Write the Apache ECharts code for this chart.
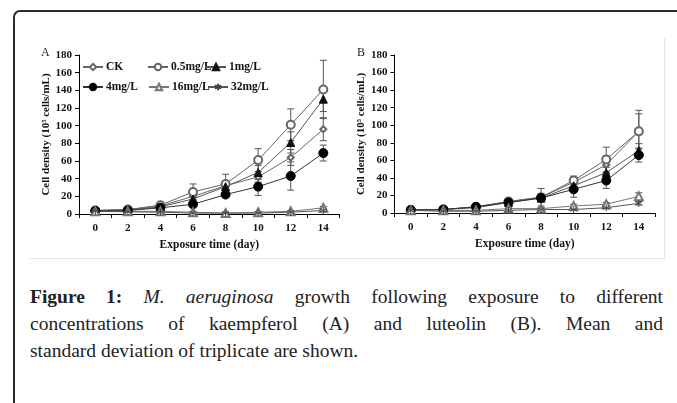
<!DOCTYPE html>
<html><head><meta charset="utf-8">
<script src="https://cdn.jsdelivr.net/npm/echarts@6/dist/echarts.min.js"></script>
<style>
html,body{margin:0;padding:0;background:#fff;}
#wrap{position:relative;width:677px;height:403px;overflow:hidden;background:#fff;}
#frame{position:absolute;left:13px;top:10px;width:700px;height:420px;border-top:2px solid #2a2a2a;border-left:2px solid #2a2a2a;border-top-left-radius:7px;box-sizing:border-box;}
#shadowR{position:absolute;left:664px;top:38px;width:1px;height:221px;background:#e6e6e6;}
#shadowB{position:absolute;left:30px;top:258px;width:635px;height:1px;background:#e6e6e6;}
#chart{position:absolute;left:0;top:0;width:677px;height:265px;}
#cap{position:absolute;left:30px;top:283px;width:633px;font-family:"Liberation Serif","Times New Roman",serif;font-size:19.5px;color:#222;line-height:27px;}
.j2{text-align:justify;text-align-last:justify;}
</style></head>
<body><div id="wrap">
<div id="frame"></div>
<div id="shadowR"></div><div id="shadowB"></div>
<div id="chart"></div>
<div id="cap">
<div class="j2"><b>Figure 1:</b> <i>M. aeruginosa</i> growth following exposure to different</div>
<div class="j2">concentrations of kaempferol (A) and luteolin (B). Mean and</div>
<div>standard deviation of triplicate are shown.</div>
</div>
</div>
<script>
// ---- data ----
var days = ['0','2','4','6','8','10','12','14'];
var seriesNames = ['CK','0.5mg/L','1mg/L','4mg/L','16mg/L','32mg/L'];
var yTicks = [0,20,40,60,80,100,120,140,160,180];

// Panel A (kaempferol): means
var A_CK   = [4, 5, 9, 20, 32, 42, 64, 96];
var A_05   = [4, 5, 10, 25, 34, 61, 101, 141];
var A_1    = [3.5, 4.5, 8, 17, 31, 47, 81, 130];
var A_4    = [3.5, 4, 7, 11, 22, 31, 43, 69];
var A_16   = [3, 3, 3, 2, 1, 2, 3, 7];
var A_32   = [3, 2.5, 2, 1, 1, 1, 2, 4];
// Panel A: standard deviations
var A_CK_sd = [0.5, 0.8, 1.5, 4, 5, 6, 9, 13];
var A_05_sd = [0.5, 1, 2, 9, 11, 13, 18, 33];
var A_1_sd  = [0.5, 1, 1.5, 4, 6, 8, 12, 14];
var A_4_sd  = [0.5, 0.8, 1.5, 3, 3, 10, 16, 9];
var A_16_sd = [0.3, 0.5, 0.5, 0.5, 0.3, 0.5, 0.8, 1.5];
var A_32_sd = [0.3, 0.3, 0.3, 0.3, 0.3, 0.5, 0.5, 1];

// Panel B (luteolin): means
var B_CK   = [3.5, 4, 7, 13, 18, 35, 55, 93];
var B_05   = [3.5, 4, 7, 13, 18, 37, 61, 93];
var B_1    = [3.5, 4, 6, 12, 17, 31, 46, 71];
var B_4    = [3.5, 4, 7, 12, 17, 27, 37, 66];
var B_16   = [3, 3, 3, 5, 5, 8, 10, 19];
var B_32   = [3, 2, 2, 3, 4, 4, 6, 11];
// Panel B: standard deviations
var B_CK_sd = [0.5, 0.8, 1, 2, 4, 5, 10, 20];
var B_05_sd = [0.5, 0.8, 1, 2, 10, 5, 14, 24];
var B_1_sd  = [0.5, 0.8, 1, 2, 3, 4, 6, 8];
var B_4_sd  = [0.5, 0.8, 1, 2, 3, 9, 9, 8];
var B_16_sd = [0.3, 0.5, 0.5, 1, 1, 2, 2, 4];
var B_32_sd = [0.3, 0.3, 0.5, 0.5, 0.8, 1, 1, 2];

var panelA = [A_CK, A_05, A_1, A_4, A_16, A_32];
var panelA_sd = [A_CK_sd, A_05_sd, A_1_sd, A_4_sd, A_16_sd, A_32_sd];
var panelB = [B_CK, B_05, B_1, B_4, B_16, B_32];
var panelB_sd = [B_CK_sd, B_05_sd, B_1_sd, B_4_sd, B_16_sd, B_32_sd];

// ---- styles ----
var SERIF = '"Liberation Serif","Times New Roman",serif';
var asterisk = 'path://M5,0L5,10M0.67,2.5L9.33,7.5M0.67,7.5L9.33,2.5';
var styles = [
  {symbol:'emptyDiamond', size:6, color:'#666', line:'#666'},
  {symbol:'emptyCircle', size:8, color:'#666', line:'#666'},
  {symbol:'triangle', size:8, color:'#111', line:'#555'},
  {symbol:'circle', size:9, color:'#000', line:'#333'},
  {symbol:'emptyTriangle', size:8, color:'#777', line:'#777'},
  {symbol:asterisk, size:7, color:'#444', line:'#555'}
];

var chart = echarts.init(document.getElementById('chart'), null, {renderer:'canvas'});

function xAxis(gi){
  return {type:'category', gridIndex:gi, data:days, boundaryGap:true,
    name:'Exposure time (day)', nameLocation:'middle', nameGap:24,
    nameTextStyle:{fontFamily:SERIF, fontWeight:'bold', fontSize:11.5, color:'#111'},
    axisLine:{lineStyle:{color:'#000', width:1}},
    axisTick:{show:true, length:4, inside:false, lineStyle:{color:'#000'}},
    axisLabel:{fontFamily:SERIF, fontWeight:'bold', fontSize:11, color:'#111', margin:9},
    splitLine:{show:false}};
}
function yAxis(gi){
  return {type:'value', gridIndex:gi, min:yTicks[0], max:yTicks[yTicks.length-1], interval:yTicks[1]-yTicks[0],
    name:'Cell density (10\u2075 cells/mL)', nameLocation:'middle', nameGap:26,
    nameTextStyle:{fontFamily:SERIF, fontWeight:'bold', fontSize:11, color:'#111'},
    axisLine:{show:true, lineStyle:{color:'#000', width:1}},
    axisTick:{show:true, length:4, lineStyle:{color:'#000'}},
    axisLabel:{fontFamily:SERIF, fontWeight:'bold', fontSize:11, color:'#111', margin:7},
    splitLine:{show:false}};
}

var series = [];
function addPanel(gi, means, sds){
  for (var i=0;i<seriesNames.length;i++){
    var st = styles[i];
    var ed = [];
    for (var k=0;k<days.length;k++) ed.push([k, means[i][k], sds[i][k]]);
    series.push({type:'custom', xAxisIndex:gi, yAxisIndex:gi, z:1, silent:true,
      data:ed, encode:{x:0,y:1},
      renderItem:function(params, api){
        var x=api.value(0), m=api.value(1), s=api.value(2);
        var lo = Math.max(0, m-s);
        var t=api.coord([x,m+s]), b=api.coord([x,lo]);
        var w=3.5;
        var st={stroke:'#555', lineWidth:1};
        return {type:'group', children:[
          {type:'line', shape:{x1:t[0],y1:t[1],x2:b[0],y2:b[1]}, style:st},
          {type:'line', shape:{x1:t[0]-w,y1:t[1],x2:t[0]+w,y2:t[1]}, style:st},
          {type:'line', shape:{x1:b[0]-w,y1:b[1],x2:b[0]+w,y2:b[1]}, style:st}
        ]};
      }});
    series.push({type:'line', name:seriesNames[i], xAxisIndex:gi, yAxisIndex:gi, z:3,
      data:means[i], symbol:st.symbol, symbolSize:st.size, showAllSymbol:true,
      lineStyle:{color:st.line, width:1},
      itemStyle:{color:st.color, borderColor:st.color, borderWidth:1},
      emphasis:{disabled:true}, animation:false});
  }
}
addPanel(0, panelA, panelA_sd);
addPanel(1, panelB, panelB_sd);

var legendPos = [[82,61],[147,61],[205,61],[82,81],[148,81],[207,81]];
var legends = seriesNames.map(function(n,i){
  return {data:[n], left:legendPos[i][0], top:legendPos[i][1], padding:0, itemWidth:20, itemHeight:8, itemGap:5,
    textStyle:{fontFamily:SERIF, fontWeight:'bold', fontSize:11.5, color:'#111', padding:[0,0,0,-2]},
    selectedMode:false};
});

chart.setOption({
  animation:false,
  backgroundColor:'transparent',
  grid:[
    {left:79, top:55, width:260.6, height:159},
    {left:394.5, top:55, width:260.6, height:158}
  ],
  xAxis:[xAxis(0), xAxis(1)],
  yAxis:[yAxis(0), yAxis(1)],
  legend:legends,
  graphic:[
    {type:'text', left:41, top:47, style:{text:'A', font:'12px '+SERIF, fill:'#222'}},
    {type:'text', left:357, top:47, style:{text:'B', font:'12px '+SERIF, fill:'#222'}}
  ],
  series:series
});
</script>
</body></html>
